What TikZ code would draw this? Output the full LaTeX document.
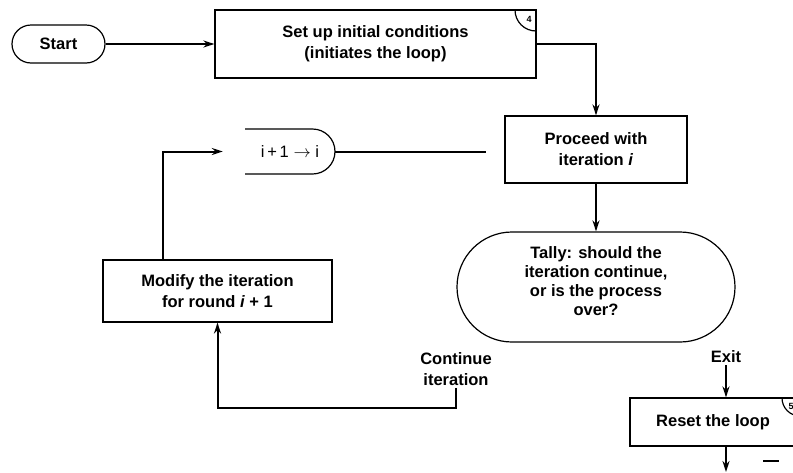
\documentclass[tikz,border=0pt]{standalone}
\usepackage{fontspec}
\setmainfont{Liberation Sans}
\usetikzlibrary{arrows.meta}
\begin{document}
\begin{tikzpicture}[x=1pt,y=-1pt,
  box/.style={draw, line width=1.2pt, inner sep=0pt, align=center,
    font=\fontsize{16.5}{21}\selectfont\bfseries},
  lbl/.style={inner sep=2pt, align=center, font=\fontsize{16.5}{21}\selectfont\bfseries},
  boxline/.style={line width=1.2pt},
  conn/.style={line width=2pt},
  arr/.style={conn, -{Stealth[length=11pt,width=7pt]}},
  cornermark/.style={font=\fontsize{9}{9}\selectfont\bfseries, inner sep=0pt}]
\useasboundingbox (0,0) rectangle (793,472);
\clip (0,0) rectangle (793,472);

% nodes
\node[box, rounded corners=19pt, minimum width=93pt, minimum height=38pt] (start) at (58.5,44) {Start};
\node[box, minimum width=321pt, minimum height=68pt] (setup) at (375.5,44) {Set up initial conditions\\(initiates the loop)};
\node[box, minimum width=182pt, minimum height=67pt] (proceed) at (596,149.5) {Proceed with\\iteration \textit{i}};
\node[inner sep=0pt, minimum width=90pt, minimum height=45pt,
  font=\fontsize{16.5}{21}\selectfont] (iplus) at (290,151.5) {i\,+\,1 $\rightarrow$ i\hspace{14pt}};
\node[box, rounded corners=55pt, minimum width=278pt, minimum height=110pt,
  font=\fontsize{16.5}{19}\selectfont\bfseries, text depth=12pt] (tally) at (596,287)
  {Tally: should the\\iteration continue,\\or is the process\\over?};
\node[box, minimum width=229pt, minimum height=62pt] (modify) at (217.5,291) {Modify the iteration\\for round \textit{i} + 1};
\node[box, minimum width=170pt, minimum height=48pt] (reset) at (715,422) {Reset the loop\hspace{4pt}};
\node[lbl] (cont) at (456,369) {Continue\\iteration};
\node[lbl] (exit) at (726,357) {Exit};
\coordinate (out) at (726,472);

% D-shaped outline of the i+1 -> i node (open on the left)
\draw[boxline] (245,129) -- (312.5,129) .. controls (324.9,129) and (335,139.1) .. (335,151.5)
  .. controls (335,163.9) and (324.9,174) .. (312.5,174) -- (245,174);

% corner marks
\draw[boxline] (515,10) .. controls (515,21.6) and (524.4,31) .. (536,31);
\node[cornermark] (m4) at (529,19) {4};
\draw[boxline] (782,398) .. controls (782,407.9) and (790.1,416) .. (800,416);
\node[cornermark] (m5) at (791,406) {5};

% connectors
\draw[arr] (start) -- (setup);
\draw[arr] (setup.east) -| (proceed.north);
\draw[arr] (proceed) -- (tally);
\draw[conn, shorten >=18pt] (iplus.east) -- (iplus.east -| proceed.west);
\draw[arr, shorten >=22pt] ([xshift=-54.5pt]modify.north) |- (iplus.west);
\draw[arr] (cont.south) -- ++(0,20) -| (modify.south);
\draw[arr] (exit.south) -- (exit.south |- reset.north);
\draw[arr] (reset.south -| out) -- (out);
\draw[conn] (763,461) -- (779,461);
\end{tikzpicture}
\end{document}
